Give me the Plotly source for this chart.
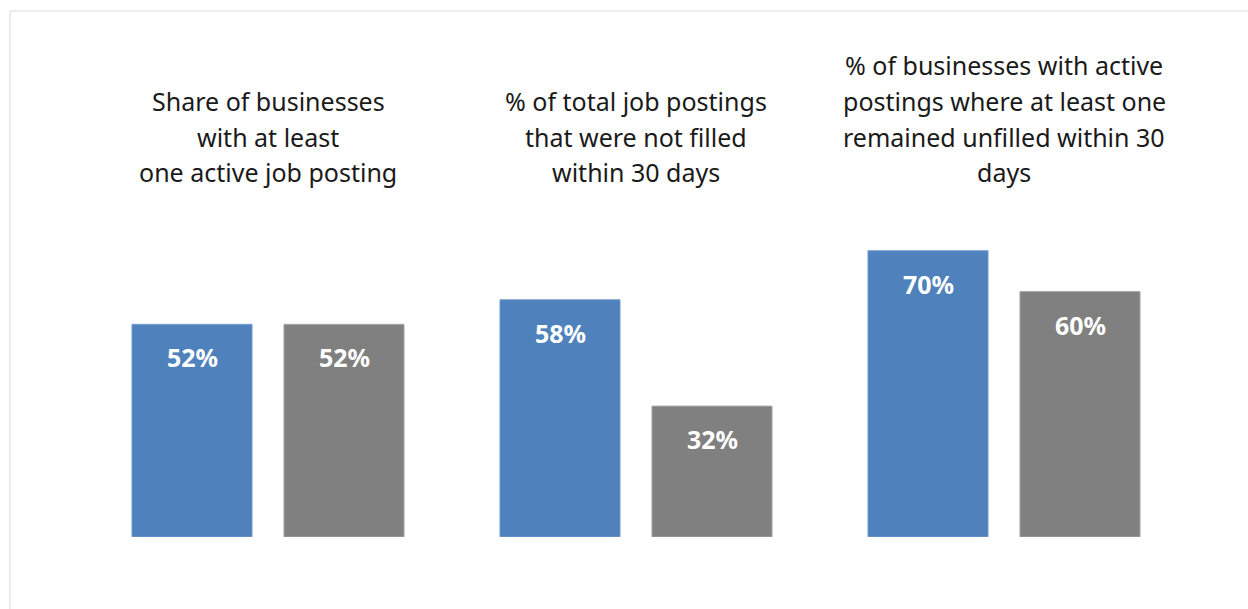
import plotly.graph_objects as go

# Category headings, one entry per text line
categories = [
    "Share of businesses with at least one active job posting",
    "% of total job postings that were not filled within 30 days",
    "% of businesses with active postings where at least one remained unfilled within 30 days",
]
category_lines = [
    ["Share of businesses", "with at least", "one active job posting"],
    ["% of total job postings", "that were not filled", "within 30 days"],
    ["% of businesses with active", "postings where at least one", "remained unfilled within 30", "days"],
]
series_a = [52, 58, 70]
series_b = [52, 32, 60]

BLUE = "#4F81BD"
GREY = "#808080"
FONT = "Noto Sans"

fig = go.Figure()
fig.add_trace(go.Bar(x=categories, y=series_a, marker=dict(color=BLUE, line=dict(color="#7a9fcf", width=1)),
                     name="A", showlegend=False, hoverinfo="skip"))
fig.add_trace(go.Bar(x=categories, y=series_b, marker=dict(color=GREY, line=dict(color="#a6a6a6", width=1)),
                     name="B", showlegend=False, hoverinfo="skip"))

W, H = 1248, 609
ml, mr, mt, mb = 84, 60, 128, 72
plot_h = H - mt - mb

annotations = []
# Value labels just inside the top of each bar
for vals, dx in ((series_a, -76), (series_b, 76)):
    for cat, v in zip(categories, vals):
        annotations.append(dict(
            x=cat, y=v, xref="x", yref="y", text=f"<b>{v}%</b>", showarrow=False,
            xshift=dx, yshift=-33, yanchor="middle", xanchor="center",
            font=dict(family=FONT, size=25, color="white")))

# Multi-line headings above each group
line_step = 35.5
last_line_px = 172
for cat, lines in zip(categories, category_lines):
    n = len(lines)
    for i, ln in enumerate(lines):
        ypx = last_line_px - (n - 1 - i) * line_step
        annotations.append(dict(
            x=cat, y=(H - mb - ypx) / plot_h, xref="x", yref="paper", text=ln,
            showarrow=False, yanchor="middle", xanchor="center",
            font=dict(family=FONT, size=25, color="#1a1a1a")))

fig.update_layout(
    width=W, height=H,
    margin=dict(l=ml, r=mr, t=mt, b=mb),
    paper_bgcolor="white", plot_bgcolor="white",
    barmode="group", bargap=0.174, bargroupgap=0.21,
    xaxis=dict(visible=False, range=[-0.5, 2.5]),
    yaxis=dict(visible=False, range=[0, 100]),
    annotations=annotations,
    shapes=[dict(type="rect", xref="paper", yref="paper",
                 x0=(10 - ml) / (W - ml - mr), x1=1.3,
                 y0=-0.5, y1=(H - mb - 11) / plot_h,
                 line=dict(color="#d9d9d9", width=1), layer="below")],
)

fig.write_html("out.html")
